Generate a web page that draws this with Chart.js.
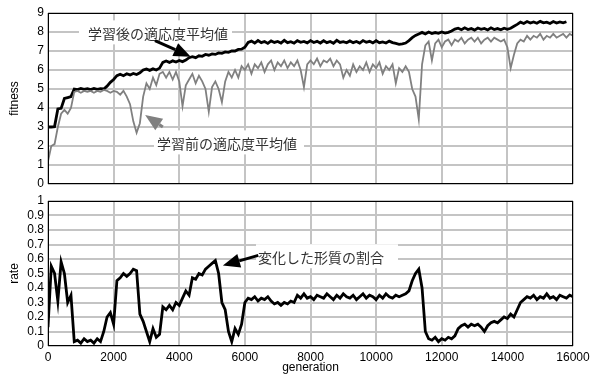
<!DOCTYPE html>
<html>
<head>
<meta charset="utf-8">
<script src="https://cdn.jsdelivr.net/npm/chart.js@4.4.0/dist/chart.umd.min.js"></script>
<style>
  html, body { margin: 0; padding: 0; background: #fff; overflow: hidden; }
  #top { position: absolute; left: 0; top: 0; }
  #bot { position: absolute; left: 0; top: 190px; }
</style>
</head>
<body>
<canvas id="top" width="594" height="190"></canvas>
<canvas id="bot" width="594" height="184"></canvas>
<script>
// sampled every 100 generations, 0..16000
const step = 100;

const fitAfter = [
  3.0, 3.0, 3.02, 3.95, 3.98, 4.5, 4.55, 4.6,
  5.0, 4.97, 5.03, 4.98, 5.02, 4.97, 5.03, 4.98, 5.02, 5.0,
  5.15, 5.35, 5.5, 5.7, 5.78, 5.7, 5.8, 5.74, 5.82, 5.76, 5.85,
  6.0, 6.05, 5.98, 6.06, 6.0, 6.1,
  6.4, 6.47, 6.4, 6.48, 6.42, 6.5, 6.44, 6.52,
  6.65, 6.7, 6.65, 6.75, 6.72, 6.82, 6.78, 6.85, 6.82, 6.9, 6.88, 6.95, 6.93, 7.0, 7.0, 7.08, 7.1,
  7.2, 7.45,
  7.52, 7.42, 7.55, 7.44, 7.5, 7.4, 7.53, 7.45, 7.5, 7.42, 7.56, 7.44, 7.49, 7.41, 7.54, 7.46,
  7.5, 7.43, 7.55, 7.45, 7.51, 7.42, 7.54, 7.44, 7.5, 7.41, 7.56, 7.45, 7.49, 7.43, 7.53, 7.44,
  7.5, 7.42, 7.55, 7.46, 7.51, 7.43, 7.54, 7.44, 7.48, 7.42, 7.52, 7.44,
  7.4, 7.35, 7.38, 7.42, 7.55, 7.7, 7.82, 7.9,
  7.98, 7.9, 8.0, 7.92, 7.97, 7.93, 8.0, 7.94, 7.98,
  8.05, 8.15,
  8.2, 8.12, 8.22, 8.13, 8.18, 8.1, 8.21, 8.14, 8.19, 8.11, 8.22, 8.13, 8.18, 8.12, 8.2, 8.14, 8.2,
  8.3, 8.4,
  8.52, 8.45, 8.55, 8.47, 8.53, 8.46, 8.56, 8.48, 8.52, 8.45, 8.55, 8.47, 8.53, 8.48, 8.54
];

const fitBefore = [
  1.2, 2.0, 2.1, 3.0, 3.7, 3.9, 3.7, 4.0,
  4.85, 4.9, 4.8, 4.9, 4.85, 4.9, 4.8, 4.9, 4.85, 4.95, 4.9, 4.8, 4.9, 4.85, 4.7, 4.9, 4.6,
  4.2, 3.3, 2.7, 3.2, 4.6, 5.3, 5.0, 5.6, 5.2, 5.8, 5.9, 5.6, 5.9, 5.5, 5.9, 5.4,
  4.1, 5.2, 5.5, 5.8, 5.3, 5.7, 5.4, 5.0, 3.8, 5.1, 5.4, 5.0, 4.3, 5.4, 5.9, 5.6, 6.0, 5.6, 6.2,
  6.0, 6.3, 5.8, 6.3, 6.1, 6.4, 5.9, 6.3, 6.5, 6.0, 6.4, 6.2, 6.5, 6.1, 6.4, 6.2, 6.5, 6.0, 5.1, 6.3,
  6.5, 6.3, 6.6, 6.2, 6.5, 6.4, 6.6, 6.2, 6.5, 6.3, 5.6, 6.0, 5.7, 6.3, 5.9, 6.2, 6.0, 6.4, 5.9, 6.3,
  6.1, 6.4, 5.8, 6.2, 6.0, 6.3, 5.3, 6.1, 5.9, 6.2, 5.9, 5.0, 4.6, 3.4, 6.3,
  7.3, 7.5, 6.5, 7.4, 7.6, 7.2, 7.5, 7.6, 7.3, 7.6, 7.5, 7.7, 7.4, 7.6, 7.7, 7.5, 7.7, 7.4, 7.6, 7.7,
  7.5, 7.7, 7.6, 7.5, 7.6, 7.2, 6.1, 6.8, 7.4, 7.6, 7.5, 7.8, 7.6, 7.8, 7.7, 7.9, 7.6, 7.8, 7.7, 7.9,
  7.7, 7.8, 7.9, 7.7, 7.9, 7.8
];

const rate = [
  0.13, 0.55, 0.5, 0.31, 0.58, 0.5, 0.3, 0.35,
  0.03, 0.04, 0.02, 0.05, 0.03, 0.04, 0.02, 0.05, 0.03,
  0.1, 0.2, 0.23, 0.15, 0.45, 0.47, 0.5, 0.48, 0.5, 0.53, 0.52,
  0.22, 0.17, 0.1, 0.03, 0.12, 0.06, 0.08,
  0.27, 0.25, 0.28, 0.25, 0.3, 0.28, 0.33, 0.38, 0.35,
  0.47, 0.46, 0.5, 0.49, 0.53, 0.55, 0.57, 0.59, 0.5,
  0.3, 0.25, 0.1, 0.03, 0.12, 0.08, 0.15, 0.3, 0.33,
  0.32, 0.34, 0.31, 0.33, 0.32, 0.34, 0.31,
  0.29, 0.3, 0.28, 0.3, 0.29, 0.31, 0.3,
  0.35, 0.33, 0.36, 0.33, 0.34, 0.32, 0.35, 0.34, 0.33, 0.36, 0.34, 0.32, 0.35, 0.33, 0.36, 0.34,
  0.33, 0.35, 0.32, 0.34, 0.36, 0.33, 0.35, 0.34, 0.32, 0.35, 0.33, 0.36, 0.34, 0.33, 0.35, 0.34,
  0.35, 0.36, 0.38, 0.45, 0.5, 0.53, 0.4, 0.1,
  0.05, 0.04, 0.06, 0.03, 0.05, 0.04, 0.06, 0.05, 0.07,
  0.12, 0.14, 0.15, 0.13, 0.15, 0.14, 0.15, 0.13, 0.1, 0.14, 0.16, 0.17, 0.16, 0.18, 0.2, 0.19,
  0.22, 0.2, 0.25, 0.3, 0.32, 0.34,
  0.33, 0.35, 0.32, 0.34, 0.33, 0.36, 0.33, 0.34, 0.32, 0.35, 0.34, 0.33, 0.35, 0.34
];

const xTicks = [0, 2000, 4000, 6000, 8000, 10000, 12000, 14000, 16000];

const labelAfter = '学習後の適応度平均値';
const labelBefore = '学習前の適応度平均値';
const labelRate = '変化した形質の割合';

function pts(arr) {
  return arr.map((v, i) => ({ x: i * step, y: v }));
}

const numFont = { family: '"Liberation Sans", Arial, sans-serif', size: 12 };
const jpFont = '14px "Noto Sans CJK JP", sans-serif';
const gridCol = '#c4c4c4';

// notes: text anchor, box extents, arrow tail -> tip (data coords)
const topNotes = [
  { text: labelAfter, at: [1219, 7.98], padL: 9, padR: 4, color: '#000',
    from: [3260, 7.55], to: [4350, 6.7] },
  { text: labelBefore, at: [3322, 2.19], padL: 3, padR: 7, color: '#808080',
    from: [3500, 3.0], to: [2960, 3.63] }
];
const botNotes = [
  { text: labelRate, at: [6400, 0.619], padL: 2, padR: 14, color: '#000',
    from: [6409, 0.625], to: [5330, 0.555] }
];

function arrow(ctx, x1, y1, x2, y2, col) {
  const a = Math.atan2(y2 - y1, x2 - x1), len = 17, hw = 7;
  const bx = x2 - len * Math.cos(a), by = y2 - len * Math.sin(a);
  ctx.strokeStyle = col; ctx.fillStyle = col; ctx.lineWidth = 3;
  ctx.beginPath(); ctx.moveTo(x1, y1); ctx.lineTo(bx, by); ctx.stroke();
  ctx.beginPath();
  ctx.moveTo(x2, y2);
  ctx.lineTo(bx + hw * Math.sin(a), by - hw * Math.cos(a));
  ctx.lineTo(bx - hw * Math.sin(a), by + hw * Math.cos(a));
  ctx.closePath(); ctx.fill();
}

function notesPlugin(notes) {
  return {
    id: 'notes',
    afterDatasetsDraw(chart) {
      const ctx = chart.ctx, xs = chart.scales.x, ys = chart.scales.y;
      ctx.save();
      notes.forEach(n => {
        ctx.font = jpFont;
        const tx = xs.getPixelForValue(n.at[0]), ty = ys.getPixelForValue(n.at[1]);
        const w = ctx.measureText(n.text).width;
        ctx.fillStyle = '#fff';
        ctx.fillRect(tx - n.padL, ty - 12, w + n.padL + n.padR, 24);
        ctx.fillStyle = '#333';
        ctx.textBaseline = 'middle';
        ctx.fillText(n.text, tx, ty + 1);
        arrow(ctx, xs.getPixelForValue(n.from[0]), ys.getPixelForValue(n.from[1]),
              xs.getPixelForValue(n.to[0]), ys.getPixelForValue(n.to[1]), n.color);
      });
      // frame
      const a = chart.chartArea;
      ctx.strokeStyle = '#000'; ctx.lineWidth = 1;
      ctx.strokeRect(Math.round(a.left) + 0.5, Math.round(a.top) + 0.5,
                     Math.round(a.width) - 1, Math.round(a.height) - 1);
      ctx.restore();
    }
  };
}

function xScale(showLabels, h) {
  return {
    type: 'linear', min: 0, max: 16000,
    afterBuildTicks(s) { s.ticks = xTicks.map(v => ({ value: v })); },
    ticks: { display: showLabels, color: '#000', font: numFont, padding: 4, maxRotation: 0,
             autoSkip: false, callback: v => String(v) },
    grid: { color: gridCol, lineWidth: 2, drawTicks: false },
    border: { display: false },
    title: { display: showLabels, text: 'generation', color: '#000',
             font: { family: numFont.family, size: 12 }, padding: { top: 0, bottom: -1 } },
    afterFit(s) { s.height = h; s.paddingLeft = 0; s.paddingRight = 0; }
  };
}

function yScale(max, stepSize, title) {
  return {
    min: 0, max: max,
    ticks: { stepSize: stepSize, color: '#000', font: numFont, padding: 4, autoSkip: false,
             callback: v => String(+v.toFixed(1)) },
    grid: { color: gridCol, lineWidth: 2, drawTicks: false },
    border: { display: false },
    title: { display: true, text: title, color: '#000',
             font: { family: numFont.family, size: 12 }, padding: { top: 7, bottom: 0 } },
    afterFit(s) { s.width = 48; s.paddingTop = 0; s.paddingBottom = 0; }
  };
}

new Chart(document.getElementById('top'), {
  type: 'line',
  data: {
    datasets: [
      { label: labelBefore, data: pts(fitBefore), borderColor: '#808080', borderWidth: 1.8,
        pointRadius: 0, tension: 0 },
      { label: labelAfter, data: pts(fitAfter), borderColor: '#000', borderWidth: 2.8,
        pointRadius: 0, tension: 0 }
    ]
  },
  options: {
    responsive: false, animation: false,
    layout: { padding: { left: 0, right: 21, top: 13, bottom: 0 } },
    plugins: { legend: { display: false }, tooltip: { enabled: false } },
    scales: { x: xScale(false, 6), y: yScale(9, 1, 'fitness') }
  },
  plugins: [notesPlugin(topNotes)]
});

new Chart(document.getElementById('bot'), {
  type: 'line',
  data: {
    datasets: [
      { label: labelRate, data: pts(rate), borderColor: '#000', borderWidth: 2.8,
        pointRadius: 0, tension: 0 }
    ]
  },
  options: {
    responsive: false, animation: false,
    layout: { padding: { left: 0, right: 21, top: 11, bottom: 0 } },
    plugins: { legend: { display: false }, tooltip: { enabled: false } },
    scales: { x: xScale(true, 28), y: yScale(1, 0.1, 'rate') }
  },
  plugins: [notesPlugin(botNotes)]
});
</script>
</body>
</html>
